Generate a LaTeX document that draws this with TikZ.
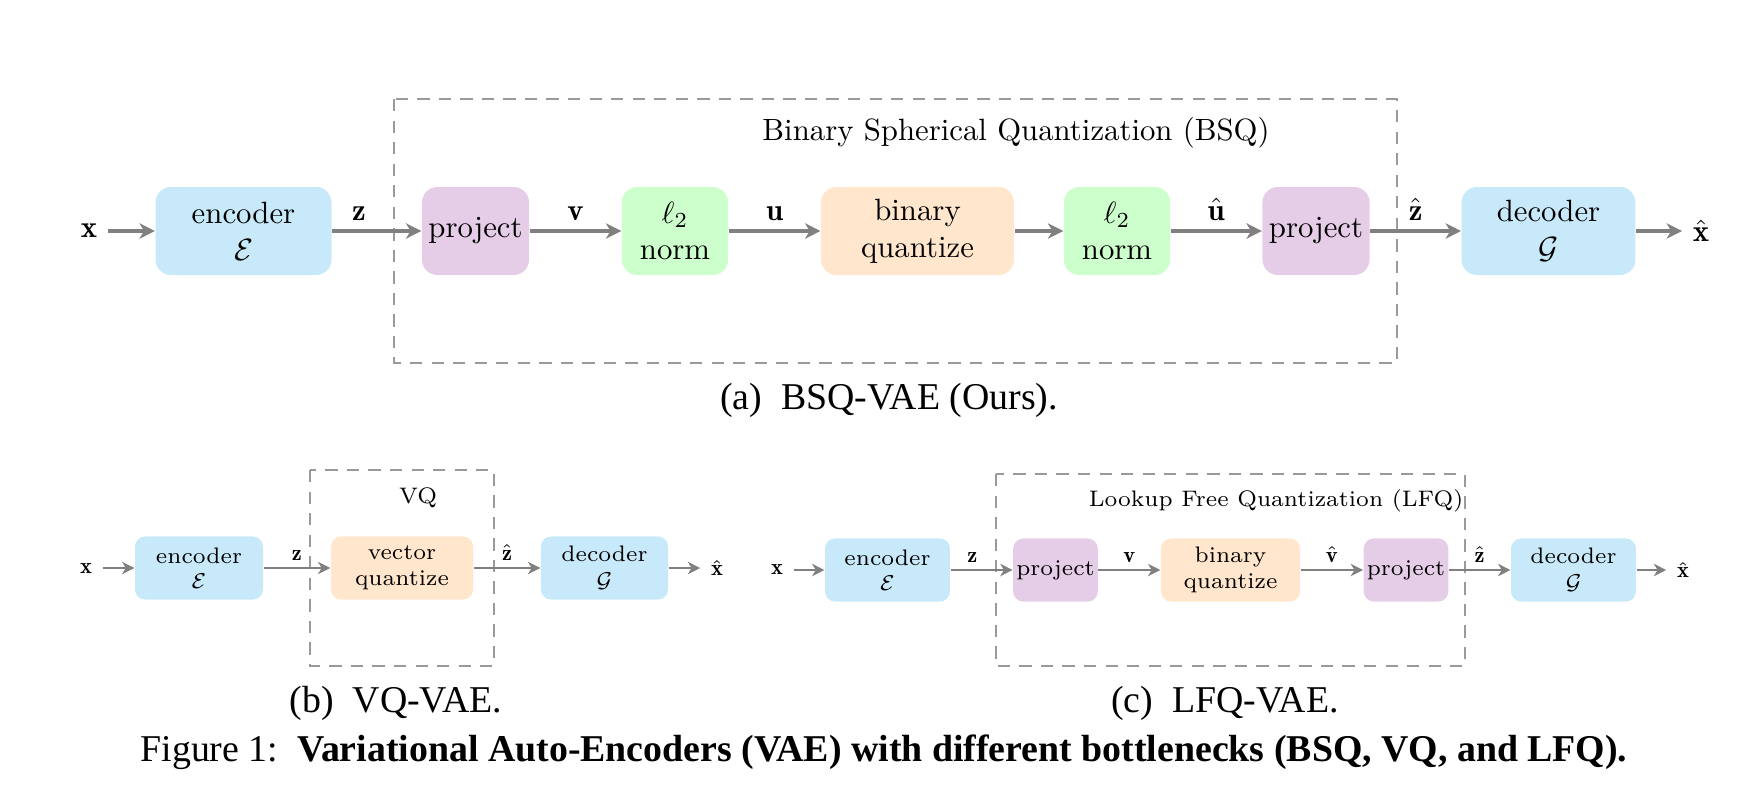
\documentclass[tikz,border=0pt]{standalone}
\usepackage{fontspec}
\usepackage{amsmath}
\usetikzlibrary{arrows.meta}
\newfontfamily\capfont{Liberation Serif}
\definecolor{encblue}{HTML}{C8E9F9}
\definecolor{projpurple}{HTML}{E6CDE7}
\definecolor{normgreen}{HTML}{CCFFCC}
\definecolor{quantorange}{HTML}{FFE6CC}
\definecolor{arrowgray}{HTML}{808080}
\definecolor{framegray}{HTML}{9A9A9A}

\begin{document}
\begin{tikzpicture}[
  x=0.325pt, y=-0.325pt,
  blk/.style={rounded corners=5pt, align=center, inner sep=1pt, minimum height=28.6pt},
  sblk/.style={rounded corners=3.3pt, align=center, inner sep=1pt, minimum height=20.5pt, font=\fontsize{7.3}{8.3}\selectfont},
  arr/.style={-{Stealth[length=5pt, width=5pt, inset=1.5pt]}, line width=1pt, arrowgray},
  sarr/.style={-{Stealth[length=4pt, width=4pt, inset=1.2pt]}, line width=0.8pt, arrowgray},
  qframe/.style={draw=framegray, dash pattern=on 4pt off 3pt, line width=0.5pt},
  lbl/.style={above, inner sep=3pt, text=black},
  slbl/.style={above, inner sep=2pt, text=black, font=\fontsize{7.3}{8.3}\selectfont},
  captext/.style={font=\capfont\fontsize{12.3}{14}\selectfont}
]
  \useasboundingbox (0,0) rectangle (1764,806);

  % (a) BSQ-VAE
  \draw[qframe] (394,99) rectangle (1397,363);
  \node (bsqtitle) at (1016,133) {Binary Spherical Quantization (BSQ)};
  \node (xa) at (89,231) {$\mathbf{x}$};
  \node[blk, fill=encblue, minimum width=57.2pt] (enca) at (243.5,231) {encoder\\$\mathcal{E}$};
  \node[blk, fill=projpurple, minimum width=34.8pt] (proja) at (475.5,231) {project};
  \node[blk, fill=normgreen, minimum width=34.5pt] (norma) at (675,231) {$\ell_2$\\norm};
  \node[blk, fill=quantorange, minimum width=62.7pt] (bqa) at (917.5,231) {binary\\quantize};
  \node[blk, fill=normgreen, minimum width=34.5pt] (normb) at (1117,231) {$\ell_2$\\norm};
  \node[blk, fill=projpurple, minimum width=34.8pt] (projb) at (1316,231) {project};
  \node[blk, fill=encblue, minimum width=56.5pt] (deca) at (1548.5,231) {decoder\\$\mathcal{G}$};
  \node (xhata) at (1701,231) {$\hat{\mathbf{x}}$};

  \draw[arr] (xa) -- (enca);
  \draw[arr] (enca) -- node[lbl, pos=0.3] {$\mathbf{z}$} (proja);
  \draw[arr] (proja) -- node[lbl] {$\mathbf{v}$} (norma);
  \draw[arr] (norma) -- node[lbl] {$\mathbf{u}$} (bqa);
  \draw[arr] (bqa) -- (normb);
  \draw[arr] (normb) -- node[lbl] {$\hat{\mathbf{u}}$} (projb);
  \draw[arr] (projb) -- node[lbl] {$\hat{\mathbf{z}}$} (deca);
  \draw[arr] (deca) -- (xhata);

  \node[captext] (capa) at (889,400) {(a)\enspace BSQ-VAE (Ours).};

  % (b) VQ-VAE
  \draw[qframe] (310,470) rectangle (494,666);
  \node[font=\fontsize{7.3}{8.3}\selectfont] (vqtitle) at (418,498) {VQ};
  \node[font=\fontsize{7.3}{8.3}\selectfont] (xb) at (86,568) {$\mathbf{x}$};
  \node[sblk, fill=encblue, minimum width=41.6pt] (encb) at (199,568) {encoder\\$\mathcal{E}$};
  \node[sblk, fill=quantorange, minimum width=46.2pt] (vq) at (402,568) {vector\\quantize};
  \node[sblk, fill=encblue, minimum width=41.3pt] (decb) at (604.5,568) {decoder\\$\mathcal{G}$};
  \node[font=\fontsize{7.3}{8.3}\selectfont] (xhatb) at (717,568) {$\hat{\mathbf{x}}$};

  \draw[sarr] (xb) -- (encb);
  \draw[sarr] (encb) -- node[slbl] {$\mathbf{z}$} (vq);
  \draw[sarr] (vq) -- node[slbl] {$\hat{\mathbf{z}}$} (decb);
  \draw[sarr] (decb) -- (xhatb);

  \node[captext] (capb) at (396,703) {(b)\enspace VQ-VAE.};

  % (c) LFQ-VAE
  \draw[qframe] (996,474) rectangle (1465,666);
  \node[font=\fontsize{7.3}{8.3}\selectfont] (lfqtitle) at (1276,501) {Lookup Free Quantization (LFQ)};
  \node[font=\fontsize{7.3}{8.3}\selectfont] (xc) at (777,570) {$\mathbf{x}$};
  \node[sblk, fill=encblue, minimum width=40.6pt] (encc) at (887.5,570) {encoder\\$\mathcal{E}$};
  \node[sblk, fill=projpurple, minimum width=25pt] (projc) at (1055.5,570) {project};
  \node[sblk, fill=quantorange, minimum width=45.2pt] (bqc) at (1230.5,570) {binary\\quantize};
  \node[sblk, fill=projpurple, minimum width=24.7pt] (projd) at (1406,570) {project};
  \node[sblk, fill=encblue, minimum width=40.6pt] (decc) at (1573.5,570) {decoder\\$\mathcal{G}$};
  \node[font=\fontsize{7.3}{8.3}\selectfont] (xhatc) at (1683,570) {$\hat{\mathbf{x}}$};

  \draw[sarr] (xc) -- (encc);
  \draw[sarr] (encc) -- node[slbl, pos=0.35] {$\mathbf{z}$} (projc);
  \draw[sarr] (projc) -- node[slbl] {$\mathbf{v}$} (bqc);
  \draw[sarr] (bqc) -- node[slbl] {$\hat{\mathbf{v}}$} (projd);
  \draw[sarr] (projd) -- node[slbl] {$\hat{\mathbf{z}}$} (decc);
  \draw[sarr] (decc) -- (xhatc);

  \node[captext] (capc) at (1225,703) {(c)\enspace LFQ-VAE.};

  % figure caption
  \node[captext] (figcap) at (884,752) {Figure 1:\enspace\textbf{Variational Auto-Encoders (VAE) with different bottlenecks (BSQ, VQ, and LFQ).}};
\end{tikzpicture}
\end{document}
